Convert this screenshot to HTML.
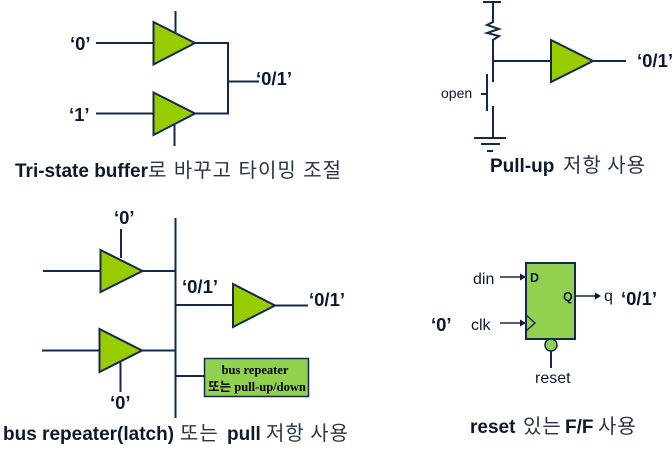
<!DOCTYPE html>
<html><head><meta charset="utf-8">
<style>
html,body{margin:0;padding:0;background:#fff;width:672px;height:453px;overflow:hidden}
svg{display:block}
text{font-family:"Liberation Sans","Noto Sans CJK KR",sans-serif;fill:#0b1830}
.b{font-weight:700;font-size:18.500px}
.c{font-weight:700;font-size:19px}
.k{font-weight:400;font-family:"Noto Sans CJK KR","Liberation Sans",sans-serif;fill:#2a3444;font-size:20px;letter-spacing:1px}
.n{font-size:16px}
.l{fill:none;stroke:#13294b;stroke-width:2}
.t{fill:#99cc00;stroke:#13294b;stroke-width:2}
</style></head><body>
<svg width="672" height="453" viewBox="0 0 672 453" xmlns="http://www.w3.org/2000/svg">
<!-- top-left -->
<path class="l" d="M96 43H153M175.500 11V33M96 113.500H153M174.500 125V146M195 43H228V113.500H195M228 81.500H259"/>
<path class="t" d="M153.500 22L195 43L153.500 64.500Z"/>
<path class="t" d="M153.500 92.500L195 113.500L153.500 135Z"/>
<text class="b" x="70" y="50">‘0’</text>
<text class="b" x="69" y="121">‘1’</text>
<text class="b" x="256" y="85">‘0/1’</text>
<text x="15" y="177" class="c">Tri-state buffer</text>
<text x="148" y="177" class="k" style="word-spacing:1px">로 바꾸고 타이밍 조절</text>

<!-- top-right -->
<path class="l" d="M483 2H501M493 2V22L487 25L499 29L487 33L499 36L493 40V82M493 61H551M593 61H626M487 74V111M481 94H487M493 106V138M474 138H506M481 144H500M487 151H493"/>
<path class="t" d="M551 40L593 61L551 82Z"/>
<text x="441" y="98" style="font-size:14px">open</text>
<text class="b" x="637" y="67">‘0/1’</text>
<text x="490" y="172" class="c">Pull-up</text>
<text x="563" y="172" class="k">저항 사용</text>

<!-- bottom-left -->
<path class="l" d="M43 271H100M121 229V258M143 271H175.500M175.500 218V418M42 350.500H99M120.500 362V392M142 350.500H175.500M175.500 305H233M275 305.500H308M175.500 376H204"/>
<path class="t" d="M100.500 250L142.500 271L100.500 292Z"/>
<path class="t" d="M99.500 329L142 350.500L99.500 372Z"/>
<path class="t" d="M233 284L275 305.500L233 327Z"/>
<rect x="204.500" y="358.500" width="104" height="38" fill="#92d050" stroke="#13294b" stroke-width="1.500"/>
<text x="255" y="374" text-anchor="middle" style="font-family:'Liberation Serif',serif;font-weight:700;font-size:12.500px;fill:#000">bus repeater</text>
<text x="257" y="391" text-anchor="middle" style="font-family:'Liberation Serif','Noto Sans CJK KR',serif;font-weight:700;font-size:12.500px;fill:#000">또는 pull-up/down</text>
<text class="b" x="114" y="224">‘0’</text>
<text class="b" x="110" y="409">‘0’</text>
<text class="b" x="182" y="293">‘0/1’</text>
<text class="b" x="309" y="306">‘0/1’</text>
<text x="3" y="440" class="c">bus repeater(latch)</text>
<text x="180" y="440" class="k">또는</text>
<text x="227" y="440" class="c">pull</text>
<text x="266" y="440" class="k">저항 사용</text>

<!-- bottom-right -->
<rect x="526" y="263" width="49" height="76" fill="#92d050" stroke="#13294b" stroke-width="2"/>
<path d="M526 315L535 323L526 331" fill="none" stroke="#13294b" stroke-width="1.500"/>
<path class="l" style="stroke-width:1.500" d="M500 277H522M500 323H522M575 296H597"/>
<path d="M526 277L520 273.500V280.500ZM526 323L520 319.500V326.500ZM601 296L595 292.500V299.500Z" fill="#0b1830"/>
<path class="l" d="M551 351V368"/>
<circle cx="551" cy="345" r="6" fill="#92d050" stroke="#13294b" stroke-width="1.500"/>
<text x="530" y="282" style="font-weight:700;font-size:12.500px">D</text>
<text x="563" y="301" style="font-weight:700;font-size:12.500px">Q</text>
<text class="n" x="473" y="284">din</text>
<text class="n" x="471" y="330">clk</text>
<text class="n" x="604" y="301">q</text>
<text class="n" x="535" y="383">reset</text>
<text class="b" x="621" y="305">‘0/1’</text>
<text class="b" x="431" y="331">‘0’</text>
<text x="470" y="433" class="c">reset</text>
<text x="523" y="433" class="k">있는</text>
<text x="565" y="433" class="c">F/F</text>
<text x="598" y="433" class="k">사용</text>
</svg>
</body></html>
